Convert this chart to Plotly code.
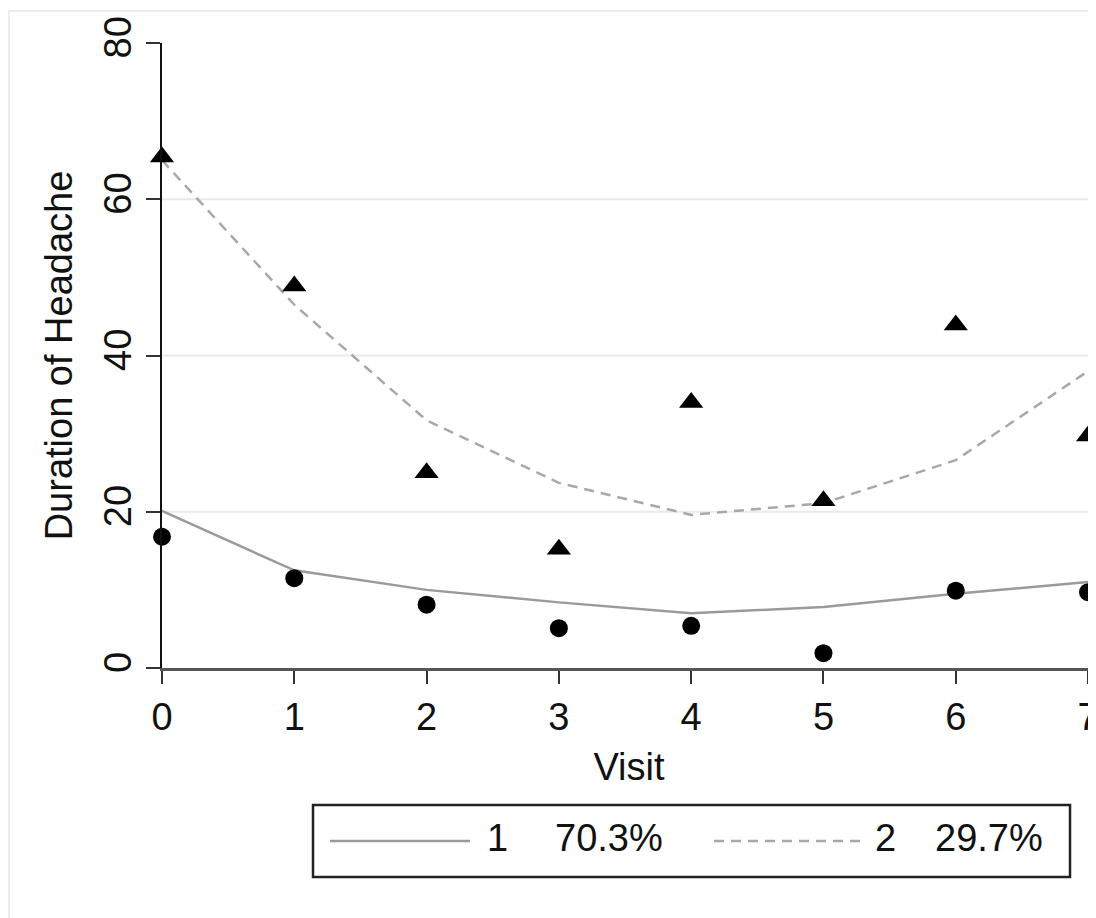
import plotly.graph_objects as go

visits = [0, 1, 2, 3, 4, 5, 6, 7]
obs_class1 = [16.8, 11.5, 8.1, 5.1, 5.4, 1.9, 9.9, 9.7]
obs_class2 = [65.4, 48.9, 25.0, 15.2, 34.0, 21.4, 43.9, 29.7]
fit_class1 = [20.1, 12.5, 10.0, 8.4, 7.0, 7.8, 9.5, 11.0]
fit_class2 = [65.0, 46.5, 31.7, 23.7, 19.6, 21.1, 26.6, 38.0]
class_labels = ["1", "2"]
class_shares = ["70.3%", "29.7%"]
y_ticks = [0, 20, 40, 60, 80]
grid_vals = [20, 40, 60]

FONT = "Liberation Sans, Arial, Helvetica, sans-serif"
FS = 38

fig = go.Figure()
fig.add_trace(go.Scatter(x=visits, y=fit_class1, mode="lines",
                         line=dict(color="#9a9a9a", width=2.5), cliponaxis=False,
                         showlegend=False))
fig.add_trace(go.Scatter(x=visits, y=fit_class2, mode="lines",
                         line=dict(color="#a8a8a8", width=2.5, dash="10px,7px"),
                         cliponaxis=False, showlegend=False))
fig.add_trace(go.Scatter(x=visits, y=obs_class1, mode="markers",
                         marker=dict(symbol="circle", size=18, color="black"),
                         cliponaxis=False, showlegend=False))
fig.add_trace(go.Scatter(x=visits, y=obs_class2, mode="markers",
                         marker=dict(symbol="triangle-up", size=21, color="black"),
                         cliponaxis=False, showlegend=False))

# page-pixel -> paper conversions (plot area spans x 162..1096, y 43..668 on the page)
def px(v):
    return (v - 162) / 934

def py(v):
    return (668 - v) / 625

shapes = []
for g in grid_vals:
    shapes.append(dict(type="line", xref="paper", yref="y", x0=0, x1=1, y0=g, y1=g,
                       line=dict(color="#e4ecee", width=2), layer="below"))

# outer frame
shapes.append(dict(type="rect", xref="paper", yref="paper",
                   x0=px(9), x1=1.05, y0=py(930), y1=py(11),
                   line=dict(color="#e8eef0", width=2), layer="below"))

# legend box
shapes.append(dict(type="rect", xref="paper", yref="paper",
                   x0=px(313), x1=px(1070), y0=py(877), y1=py(805),
                   line=dict(color="#222222", width=2.5)))
shapes.append(dict(type="line", xref="paper", yref="paper",
                   x0=px(330), x1=px(470), y0=py(841), y1=py(841),
                   line=dict(color="#9a9a9a", width=2.5)))
shapes.append(dict(type="line", xref="paper", yref="paper",
                   x0=px(714), x1=px(860), y0=py(841), y1=py(841),
                   line=dict(color="#a8a8a8", width=2.5, dash="10px,7px")))

annotations = []
for xc, txt in [(497, class_labels[0]), (885, class_labels[1])]:
    annotations.append(dict(xref="paper", yref="paper", x=px(xc), y=py(838), text=txt,
                            showarrow=False, xanchor="center", yanchor="middle",
                            font=dict(family=FONT, size=FS, color="#111111")))
for xl, txt in [(553, class_shares[0]), (933, class_shares[1])]:
    annotations.append(dict(xref="paper", yref="paper", x=px(xl), y=py(838), text=txt,
                            showarrow=False, xanchor="left", yanchor="middle",
                            font=dict(family=FONT, size=FS, color="#111111")))

fig.update_layout(
    width=1088, height=910,
    margin=dict(l=154, r=0, t=35, b=250, autoexpand=False),
    paper_bgcolor="white", plot_bgcolor="white",
    font=dict(family=FONT, size=FS, color="#111111"),
    shapes=shapes, annotations=annotations,
    xaxis=dict(range=[0, 7.06], tickvals=visits, ticks="outside", ticklen=13,
               tickwidth=2, tickcolor="#333333", showline=True, linecolor="#555555",
               linewidth=3, showgrid=False, zeroline=False,
               ticklabeloverflow="allow",
               tickfont=dict(size=FS, family=FONT, color="#111111"),
               title=dict(text="Visit", standoff=17,
                          font=dict(size=FS, family=FONT, color="#111111")),
               automargin=False),
    yaxis=dict(range=[0, 80], tickvals=y_ticks, ticks="outside", ticklen=14,
               tickwidth=2, tickcolor="#333333", showline=True, linecolor="#111111",
               linewidth=2, showgrid=False, zeroline=False, tickangle=-90,
               ticklabeloverflow="allow",
               tickfont=dict(size=FS, family=FONT, color="#111111"),
               title=dict(text="Duration of Headache", standoff=12,
                          font=dict(size=FS, family=FONT, color="#111111")),
               automargin=False),
)

fig.write_html("out.html")
